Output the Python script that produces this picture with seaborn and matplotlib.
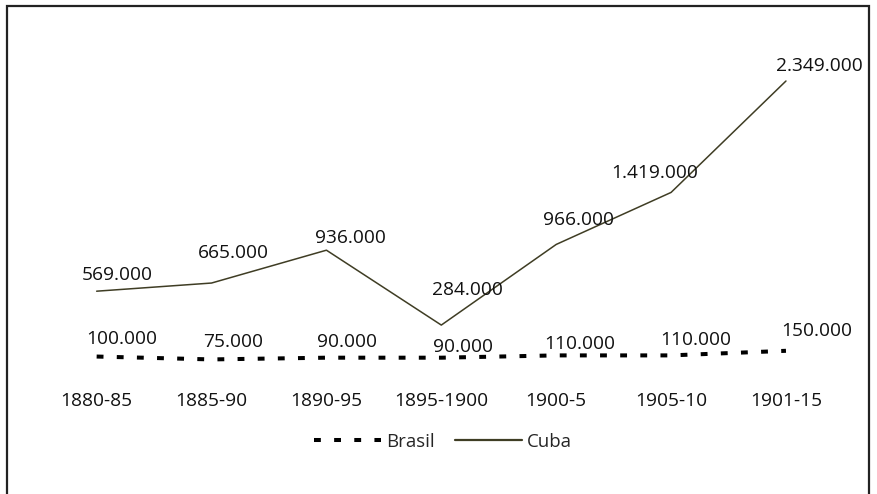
import matplotlib

matplotlib.use("Agg")

import matplotlib.pyplot as plt
import numpy as np
import pandas as pd
import seaborn as sns
from matplotlib.lines import Line2D
from matplotlib.patches import Rectangle

# -----------------------------
# Data
# -----------------------------

PERIODS = ["1880-85", "1885-90", "1890-95", "1895-1900", "1900-5", "1905-10", "1901-15"]
BRASIL = [100000, 75000, 90000, 90000, 110000, 110000, 150000]
CUBA = [569000, 665000, 936000, 284000, 966000, 1419000, 2349000]

# label offsets in pixels (dx, dy up) relative to the point
BRASIL_LABEL_OFFSETS = [(25, 18), (22, 17), (21, 16), (22, 11), (24, 11), (25, 15), (31, 20)]
CUBA_LABEL_OFFSETS = [(21, 16), (22, 30), (24, 12), (26, 35), (22, 24), (-16, 19), (33, 15)]

# -----------------------------
# Style
# -----------------------------

sns.set_style("white")
plt.rcParams["font.family"] = ["Open Sans", "DejaVu Sans"]

TEXT_COLOR = "#111111"
CUBA_COLOR = "#3F3D24"
BRASIL_COLOR = "#000000"
FONT_SIZE = 13.8


def fmt(v: int) -> str:
    return f"{v:,}".replace(",", ".")


def main() -> None:
    df = pd.DataFrame(
        {
            "pos": np.arange(len(PERIODS)),
            "period": PERIODS,
            "brasil": BRASIL,
            "cuba": CUBA,
        }
    )
    # stacked line chart: Cuba drawn on top of Brasil
    df["cuba_stacked"] = df["brasil"] + df["cuba"]

    fig = plt.figure(figsize=(8.77, 4.94), dpi=100, facecolor="white")
    ax = fig.add_axes([0.0447, 0.255, 0.917, 0.651])

    sns.lineplot(
        data=df,
        x="pos",
        y="brasil",
        ax=ax,
        color=BRASIL_COLOR,
        linewidth=2.9,
        dashes=False,
    )
    brasil_line = ax.lines[-1]
    brasil_line.set_dashes((1.7, 3.3))
    brasil_line.set_dash_capstyle("butt")

    sns.lineplot(
        data=df,
        x="pos",
        y="cuba_stacked",
        ax=ax,
        color=CUBA_COLOR,
        linewidth=1.1,
    )

    for i, row in df.iterrows():
        dx, dy = BRASIL_LABEL_OFFSETS[i]
        ax.annotate(
            fmt(row["brasil"]),
            (row["pos"], row["brasil"]),
            xytext=(dx, dy),
            textcoords="offset pixels",
            ha="center",
            va="center",
            fontsize=FONT_SIZE,
            color=TEXT_COLOR,
        )
        dx, dy = CUBA_LABEL_OFFSETS[i]
        ax.annotate(
            fmt(row["cuba"]),
            (row["pos"], row["cuba_stacked"]),
            xytext=(dx, dy),
            textcoords="offset pixels",
            ha="center",
            va="center",
            fontsize=FONT_SIZE,
            color=TEXT_COLOR,
        )

    ax.set_xlim(-0.5, len(PERIODS) - 0.5)
    ax.set_ylim(0, 2800000)
    ax.set_xticks(df["pos"])
    ax.set_xticklabels(PERIODS, fontsize=FONT_SIZE, color=TEXT_COLOR)
    ax.set_yticks([])
    ax.tick_params(axis="x", length=0, pad=17)
    ax.set_xlabel("")
    ax.set_ylabel("")
    for spine in ax.spines.values():
        spine.set_visible(False)
    ax.patch.set_alpha(0)

    handles = [
        Line2D([0], [0], color=BRASIL_COLOR, linewidth=2.9, dashes=(1.7, 3.3),
               dash_capstyle="butt"),
        Line2D([0], [0], color=CUBA_COLOR, linewidth=1.6),
    ]
    fig.legend(
        handles,
        ["Brasil", "Cuba"],
        loc="center",
        bbox_to_anchor=(443 / 877, 1 - 442 / 494),
        ncol=2,
        frameon=False,
        fontsize=FONT_SIZE - 0.4,
        handlelength=3.6,
        handletextpad=0.25,
        columnspacing=1.1,
    )

    # chart border
    fig.patches.append(
        Rectangle(
            (7 / 877, -0.02),
            (869 - 7) / 877,
            1.02 - 6 / 494,
            transform=fig.transFigure,
            fill=False,
            edgecolor="#222222",
            linewidth=1.6,
        )
    )

    fig.savefig("out.png", dpi=100, facecolor="white")
    plt.close(fig)


if __name__ == "__main__":
    main()
